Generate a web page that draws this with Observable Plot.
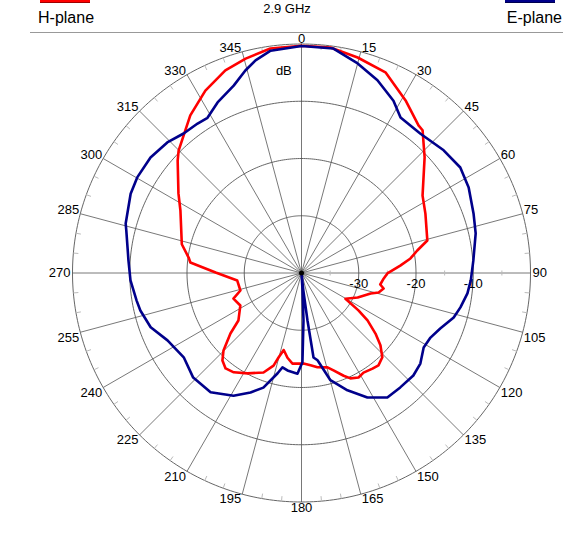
<!DOCTYPE html>
<html>
<head>
<meta charset="utf-8">
<script src="https://cdn.jsdelivr.net/npm/d3@7"></script>
<script src="https://cdn.jsdelivr.net/npm/@observablehq/plot@0.6"></script>
<style>
  body { margin: 0; background: #fff; font-family: Arial, "Liberation Sans", sans-serif; }
  #hdr { position: relative; width: 563px; height: 33px; overflow: hidden; }
  #hdr .sw { position: absolute; top: -2px; width: 50px; height: 4px; }
  #hdr .lab { position: absolute; top: 9px; font-size: 16px; color: #000; white-space: nowrap; }
  #hdr #title { position: absolute; top: 1px; left: 0; width: 574px; text-align: center; font-size: 13px; }
  #hdr .rule { position: absolute; left: 30px; top: 32px; width: 533px; height: 1px; background: #999; }
  #chart svg { display: block; overflow: visible; }
</style>
</head>
<body>
<div id="hdr">
  <div class="sw" style="left:40px;background:#ff0000;border-bottom:1px solid #a00000"></div>
  <div class="lab" style="left:38px">H-plane</div>
  <div id="title">2.9 GHz</div>
  <div class="sw" style="left:505px;background:#00008b;border-bottom:1px solid #000050"></div>
  <div class="lab" style="right:1px">E-plane</div>
  <div class="rule"></div>
</div>
<div id="chart"></div>
<script>
// ---------- data ----------
const hAngles = [0, 7.3, 14.6, 22.7, 31.1, 38.4, 40.3, 46.8, 57.4, 64.4, 75.5, 79, 82.4, 85.7, 90.3, 93.8, 98.3, 100.7, 104.2, 106.5, 113.6, 120.4, 123.3, 125.7, 129.3, 132.5, 136.2, 140.2, 143.4, 148.1, 151.4, 155.1, 157.7, 161.8, 164.6, 170.4, 174.4, 178.7, 185.7, 189.4, 193, 195.2, 196.8, 200.9, 208.2, 214.3, 218.5, 222.1, 225.2, 229.6, 233, 242, 249.4, 254, 263.3, 270.3, 275.4, 277.8, 283.5, 297.3, 302.9, 312.2, 314.9, 324.8, 332.2, 339.4, 345.4, 352.1];
const hDb = [-0.3, -0.3, -1.1, -2.0, -4.8, -7.1, -7.3, -10.5, -14.9, -16.0, -17.3, -19.4, -20.8, -22.7, -25.0, -25.6, -26.1, -25.4, -26.1, -27.4, -29.3, -31.1, -28.1, -25.8, -23.3, -21.3, -19.6, -19.0, -19.2, -19.5, -19.2, -19.7, -20.6, -22.1, -22.9, -23.3, -23.8, -24.2, -24.1, -25.0, -26.2, -24.7, -23.1, -21.4, -20.1, -19.0, -18.7, -19.4, -20.8, -23.7, -26.2, -27.9, -27.3, -28.9, -28.7, -25.0, -20.5, -20.1, -18.5, -16.2, -14.4, -10.8, -9.7, -6.3, -4.0, -2.2, -1.3, -0.4];

const eAngles = [0, 8.1, 15, 21.5, 28.1, 32.5, 40.5, 49.2, 56.4, 62.9, 70.9, 77.2, 85.8, 92.5, 97, 102.2, 106.3, 111.8, 116.6, 121.4, 127.3, 132.5, 139.2, 145.4, 152.1, 158.6, 164.9, 169.6, 171.9, 172.8, 174, 175.5, 176.5, 177.6, 179.4, 182.3, 188.2, 191.4, 193.4, 198.4, 203.1, 209, 217.3, 226, 234.4, 243.3, 250.2, 256.9, 260.5, 267.5, 274.1, 283.7, 285.7, 294.9, 300.2, 307.4, 314.2, 319.8, 325.2, 328.8, 333.8, 340.1, 344.5, 347.8, 352.1];
const eDb = [-0.35, -0.4, -2.1, -3.8, -5.9, -7.8, -8.0, -7.2, -6.7, -7.2, -8.2, -8.8, -9.9, -10.4, -10.8, -11.6, -12.3, -13.9, -14.8, -15.0, -13.9, -13.5, -13.6, -13.6, -15.4, -18.0, -20.6, -24.5, -25.1, -31.6, -37, -40, -37, -31.7, -24.4, -22.4, -22.8, -23.2, -22.0, -18.9, -17.3, -15.5, -13.8, -13.7, -14.7, -13.8, -12.0, -11.1, -10.8, -10.1, -9.7, -8.5, -8.1, -7.1, -6.8, -6.8, -7.3, -8.1, -8.2, -8.3, -6.8, -5.2, -3.3, -2.0, -0.8];

const angleTicks = d3.range(0, 360, 15);
const minorAngleTicks = d3.range(0, 360, 5).filter(a => a % 15 !== 0);
const ringDb = [-30, -20, -10, 0];
const ringLabelDb = [-30, -20, -10];
const minorDbTicks = [-35, -25, -15, -5];
const dbMin = -40, dbMax = 0;
const unitLabel = "dB";

// ---------- layout ----------
const W = 563, H = 517, CX = 301, CY = 239.5, R = 229;
const UNIT_POS = {angle: 355, db: -4.6};

const rad = db => (Math.max(db, dbMin) - dbMin) / (dbMax - dbMin);
const px = (a, r) => r * Math.sin(a * Math.PI / 180);
const py = (a, r) => r * Math.cos(a * Math.PI / 180);

const series = (angles, dbs) => {
  const pts = angles.map((a, i) => ({a, db: dbs[i]}));
  pts.push(pts[0]);
  return pts;
};
const hData = series(hAngles, hDb);
const eData = series(eAngles, eDb);

const ringPts = ringDb.flatMap(db => d3.range(0, 361, 1).map(a => ({db, a})));

const sgn = v => Math.abs(v) < 1e-9 ? 0 : Math.sign(v);
const labelGroup = (filter, textAnchor, lineAnchor, dx, dy) =>
  Plot.text(angleTicks.filter(filter), {
    x: a => px(a, 1), y: a => py(a, 1), text: a => String(a),
    textAnchor, lineAnchor, dx, dy, fontSize: 13, fill: "#000",
    fontFamily: "Arial, 'Liberation Sans', sans-serif"
  });
const sA = a => sgn(Math.sin(a * Math.PI / 180));
const cA = a => sgn(Math.cos(a * Math.PI / 180));

const chart = Plot.plot({
  width: W, height: H,
  margin: 0,
  x: {domain: [-CX / R, (W - CX) / R], range: [0, W], axis: null},
  y: {domain: [-(H - CY) / R, CY / R], range: [H, 0], axis: null},
  style: {background: "transparent", overflow: "visible", fontFamily: "Arial, 'Liberation Sans', sans-serif"},
  marks: [
    // spokes
    Plot.link(angleTicks, {x1: () => 0, y1: () => 0, x2: a => px(a, 1), y2: a => py(a, 1), stroke: "#555", strokeWidth: 0.8}),
    // rings
    Plot.line(ringPts, {x: d => px(d.a, rad(d.db)), y: d => py(d.a, rad(d.db)), z: "db", stroke: "#555", strokeWidth: 0.9}),
    // minor angle ticks on the outer ring
    Plot.link(minorAngleTicks, {x1: a => px(a, 1), y1: a => py(a, 1), x2: a => px(a, 1 - 5 / R), y2: a => py(a, 1 - 5 / R), stroke: "#bbb", strokeWidth: 1}),
    // minor dB ticks on 90° axis
    Plot.link(minorDbTicks, {x1: d => rad(d), y1: () => -2.5 / R, x2: d => rad(d), y2: () => 2.5 / R, stroke: "#bbb", strokeWidth: 1}),
    // angle labels
    labelGroup(a => sA(a) === 0 && cA(a) > 0, "middle", "bottom", 0, -1),
    labelGroup(a => sA(a) > 0 && cA(a) > 0, "start", "bottom", 1, 0),
    labelGroup(a => sA(a) > 0 && cA(a) === 0, "start", "middle", 2, 0),
    labelGroup(a => sA(a) > 0 && cA(a) < 0, "start", "top", 1, 0),
    labelGroup(a => sA(a) === 0 && cA(a) < 0, "middle", "top", 0, 1),
    labelGroup(a => sA(a) < 0 && cA(a) < 0, "end", "top", -1, 0),
    labelGroup(a => sA(a) < 0 && cA(a) === 0, "end", "middle", -2, 0),
    labelGroup(a => sA(a) < 0 && cA(a) > 0, "end", "bottom", -1, 0),
    // ring labels
    Plot.text(ringLabelDb, {x: d => rad(d), y: () => 0, text: d => String(d), lineAnchor: "top", dy: 6, fontSize: 13, fill: "#000"}),
    // unit label
    Plot.text([unitLabel], {x: () => px(UNIT_POS.angle, rad(UNIT_POS.db)), y: () => py(UNIT_POS.angle, rad(UNIT_POS.db)), text: d => d, fontSize: 13, fill: "#000"}),
    // series
    Plot.line(hData, {x: d => px(d.a, rad(d.db)), y: d => py(d.a, rad(d.db)), stroke: "#ff0000", strokeWidth: 2.6, curve: "linear", strokeLinejoin: "round"}),
    Plot.line(eData, {x: d => px(d.a, rad(d.db)), y: d => py(d.a, rad(d.db)), stroke: "#00008b", strokeWidth: 2.6, curve: "linear", strokeLinejoin: "round"}),
    // center dot
    Plot.dot([0], {x: () => 0, y: () => 0, r: 2.5, fill: "#000"})
  ]
});
document.getElementById("chart").appendChild(chart);
</script>
</body>
</html>
